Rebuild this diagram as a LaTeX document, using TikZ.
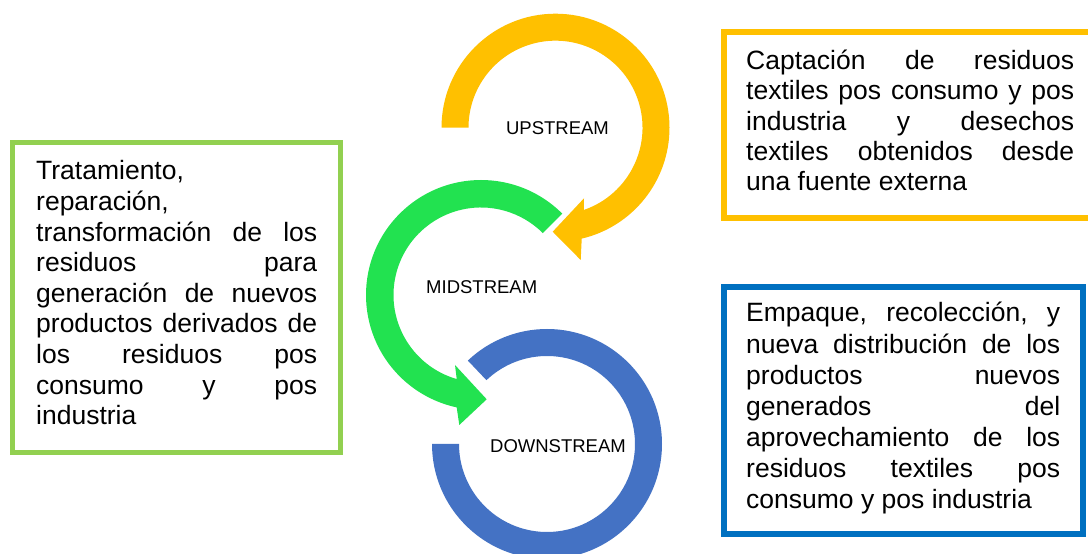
\documentclass[tikz,border=0pt]{standalone}
\usepackage{fontspec}
\setmainfont{Liberation Sans}
\usetikzlibrary{calc}
\definecolor{yel}{HTML}{FFC000}
\definecolor{grn}{HTML}{22E250}
\definecolor{blu}{HTML}{4472C4}
\definecolor{gbox}{HTML}{92D050}
\definecolor{bbox}{HTML}{0070C0}
\tikzset{
  frame/.style={draw, line width=5.5pt, inner sep=0pt, rectangle},
  boxtext/.style={anchor=base west, inner sep=0pt},
  ringlabel/.style={anchor=base, inner sep=0pt, font=\fontsize{18.5}{22}\selectfont}
}
\begin{document}
\begin{tikzpicture}[x=1pt,y=1pt]
\useasboundingbox (0,0) rectangle (1088,554);
\clip (0,0) rectangle (1088,554);
\fill[white] (0,0) rectangle (1088,554);
% rings
\coordinate (yc) at (555.5,426.3);
\coordinate (gc) at (481,259);
\coordinate (bc) at (547,110);
\fill[yel] ($(yc)+(180:114)$) arc[start angle=180,end angle=-76.7,radius=114]
  -- (580.7,294) -- (552.7,322.3) -- (584,355.7)
  -- ($(yc)+(-71:87)$) arc[start angle=-71,end angle=180,radius=87] -- cycle;
\fill[grn] ($(gc)+(45:115)$) arc[start angle=45,end angle=257.8,radius=115]
  -- (459.3,129) -- (486.7,154.7) -- (455,189)
  -- ($(gc)+(253.9:87.5)$) arc[start angle=253.9,end angle=45,radius=87.5] -- cycle;
\fill[blu] ($(bc)+(180:115)$) arc[start angle=180,end angle=493.5,radius=115]
  -- ($(bc)+(493.5:88)$) arc[start angle=493.5,end angle=180,radius=88] -- cycle;
\node[ringlabel] (up) at (557.5,419) {UPSTREAM};
\node[ringlabel] (mid) at (481.7,260.7) {MIDSTREAM};
\node[ringlabel] (down) at (558,101.7) {DOWNSTREAM};
% boxes
\node[frame, draw=yel, minimum width=368pt, minimum height=186pt] (ybox) at (908,429) {};
\node[frame, draw=bbox, minimum width=359pt, minimum height=247pt] (bboxn) at (903.5,143.5) {};
\node[frame, draw=gbox, line width=5pt, minimum width=328pt, minimum height=310pt] (gboxn) at (176.5,256.5) {};
\node[boxtext] (ytext) at (746,484.7) {\parbox[t]{328pt}{\fontsize{26.5}{30.4}\selectfont
\hbox to\hsize{Captación de residuos}
\hbox to\hsize{textiles pos consumo y pos}
\hbox to\hsize{industria y desechos}
\hbox to\hsize{textiles obtenidos desde}
\hbox{una fuente externa}}};
\node[boxtext] (btext) at (746,232) {\parbox[t]{314pt}{\fontsize{26.5}{31.1}\selectfont
\hbox to\hsize{Empaque, recolección, y}
\hbox to\hsize{nueva distribución de los}
\hbox to\hsize{productos nuevos}
\hbox to\hsize{generados del}
\hbox to\hsize{aprovechamiento de los}
\hbox to\hsize{residuos textiles pos}
\hbox{consumo y pos industria}}};
\node[boxtext] (gtext) at (36,374) {\parbox[t]{281pt}{\fontsize{26.5}{30.6}\selectfont
\hbox{Tratamiento,}
\hbox{reparación,}
\hbox to\hsize{transformación de los}
\hbox to\hsize{residuos para}
\hbox to\hsize{generación de nuevos}
\hbox to\hsize{productos derivados de}
\hbox to\hsize{los residuos pos}
\hbox to\hsize{consumo y pos}
\hbox{industria}}};
\end{tikzpicture}
\end{document}
